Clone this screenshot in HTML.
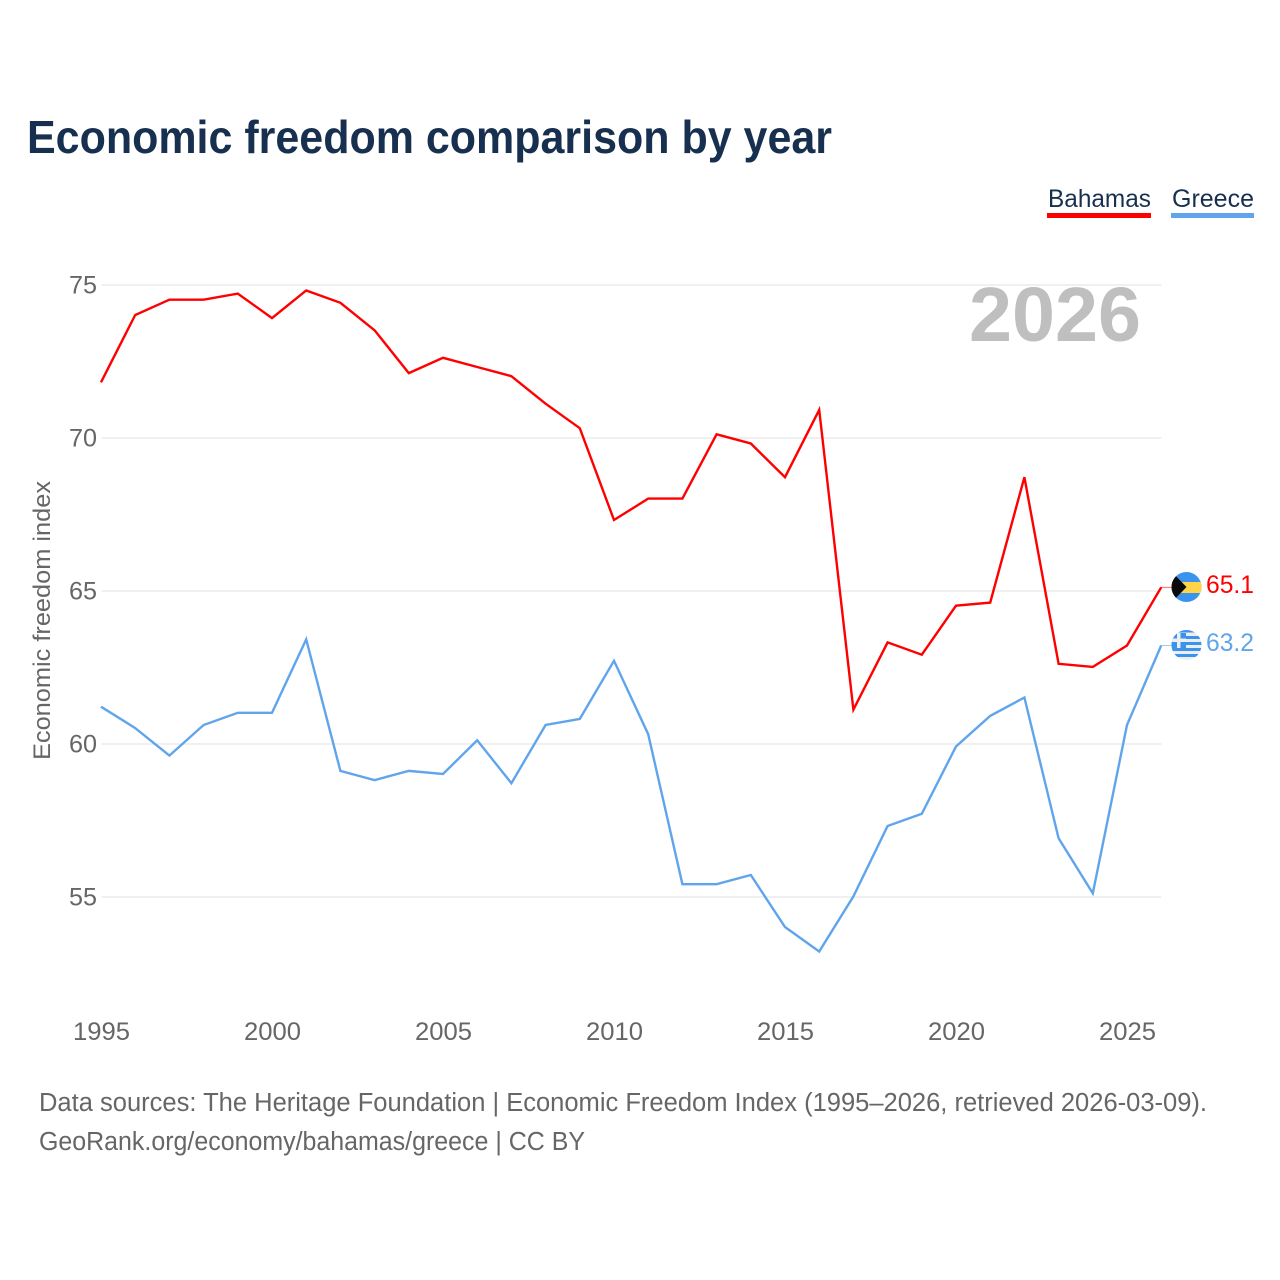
<!DOCTYPE html>
<html lang="en">
<head>
<meta charset="utf-8">
<title>Economic freedom comparison by year</title>
<style>
html,body{margin:0;padding:0;background:#fff;}
svg{display:block;font-family:"Liberation Sans",sans-serif;}
</style>
</head>
<body>
<svg id="chart" width="1280" height="1280" viewBox="0 0 1280 1280" xmlns="http://www.w3.org/2000/svg">
  <defs>
    <clipPath id="clip-bs"><circle cx="1186.500" cy="587" r="15"/></clipPath>
    <clipPath id="clip-gr"><circle cx="1186.500" cy="645" r="15"/></clipPath>
  </defs>
  <rect width="1280" height="1280" fill="#fff"/>
  <text x="27" y="153" font-size="46" font-weight="700" fill="#18304f" textLength="805" lengthAdjust="spacingAndGlyphs">Economic freedom comparison by year</text>

  <g id="grid"></g>
  <g id="yticks"></g>
  <g id="xticks"></g>
  <text transform="translate(50,760) rotate(-90)" font-size="24" fill="#666" textLength="279" lengthAdjust="spacingAndGlyphs">Economic freedom index</text>
  <text x="1141" y="341" text-anchor="end" font-size="77" font-weight="700" fill="#bfbfbf" textLength="172" lengthAdjust="spacingAndGlyphs">2026</text>

  <g id="series" transform="translate(-0.5,-0.6)"></g>

  <g>
    <text x="1048" y="207" font-size="25" fill="#18304f" textLength="103" lengthAdjust="spacingAndGlyphs">Bahamas</text>
    <rect x="1047" y="213" width="104" height="5" fill="#ff0000"/>
  </g>
  <g>
    <text x="1172" y="207" font-size="25" fill="#18304f" textLength="82" lengthAdjust="spacingAndGlyphs">Greece</text>
    <rect x="1171" y="213" width="83" height="5" fill="#60a5ec"/>
  </g>

  <g clip-path="url(#clip-bs)">
    <rect x="1171" y="572" width="31" height="30" fill="#3a94ee"/>
    <rect x="1171" y="582" width="31" height="11" fill="#ffd446"/>
    <polygon points="1171,571 1186.500,587 1171,603" fill="#0a0a0a"/>
  </g>
  <g clip-path="url(#clip-gr)">
    <rect x="1171" y="630" width="31" height="30" fill="#eeeeee"/>
    <rect x="1171" y="630" width="31" height="2.500" fill="#3a94ee"/>
    <rect x="1171" y="636" width="31" height="3" fill="#3a94ee"/>
    <rect x="1171" y="642" width="31" height="3" fill="#3a94ee"/>
    <rect x="1171" y="648" width="31" height="3" fill="#3a94ee"/>
    <rect x="1171" y="654" width="31" height="3" fill="#3a94ee"/>
    <rect x="1171" y="633" width="15" height="15" fill="#3a94ee"/>
    <rect x="1177" y="633" width="3.500" height="15" fill="#eeeeee"/>
    <rect x="1171" y="638.500" width="15" height="3.500" fill="#eeeeee"/>
  </g>
  <text x="1254" y="593" text-anchor="end" font-size="25" fill="#ff0000" textLength="48" lengthAdjust="spacingAndGlyphs">65.1</text>
  <text x="1254" y="651" text-anchor="end" font-size="25" fill="#60a5ec" textLength="48" lengthAdjust="spacingAndGlyphs">63.2</text>

  <text x="39" y="1111" font-size="25.500" fill="#666" textLength="1168" lengthAdjust="spacingAndGlyphs">Data sources: The Heritage Foundation | Economic Freedom Index (1995–2026, retrieved 2026-03-09).</text>
  <text x="39" y="1150" font-size="25.500" fill="#666" textLength="546" lengthAdjust="spacingAndGlyphs">GeoRank.org/economy/bahamas/greece | CC BY</text>
</svg>
<script>
const years = [1995,1996,1997,1998,1999,2000,2001,2002,2003,2004,2005,2006,2007,2008,2009,2010,2011,2012,2013,2014,2015,2016,2017,2018,2019,2020,2021,2022,2023,2024,2025,2026];
const bahamasValues = [71.8,74.0,74.5,74.5,74.7,73.9,74.8,74.4,73.5,72.1,72.6,72.3,72.0,71.1,70.3,67.3,68.0,68.0,70.1,69.8,68.7,70.9,61.1,63.3,62.9,64.5,64.6,68.7,62.6,62.5,63.2,65.1];
const greeceValues = [61.2,60.5,59.6,60.6,61.0,61.0,63.4,59.1,58.8,59.1,59.0,60.1,58.7,60.6,60.8,62.7,60.3,55.4,55.4,55.7,54.0,53.2,55.0,57.3,57.7,59.9,60.9,61.5,56.9,55.1,60.6,63.2];
const yTickLabels = [55,60,65,70,75];
const xTickLabels = [1995,2000,2005,2010,2015,2020,2025];

const NS = 'http://www.w3.org/2000/svg';
function xScale(year){ return 101.5 + (year - 1995) * 34.2; }
function yScale(v){ return 744 - (v - 60) * 30.6; }
function make(tag, attrs){
  const el = document.createElementNS(NS, tag);
  for (const k in attrs) el.setAttribute(k, attrs[k]);
  return el;
}
const grid = document.getElementById('grid');
const yticks = document.getElementById('yticks');
const xticks = document.getElementById('xticks');
const seriesGroup = document.getElementById('series');

yTickLabels.forEach(function(v){
  const line = make('line', {x1:101.5, x2:1161.5, y1:yScale(v), y2:yScale(v), stroke:'#f0f0f0', 'stroke-width':2});
  
  
  grid.appendChild(line);
  const t = make('text', {x:97, y:yScale(v) + 8.5, 'text-anchor':'end', 'font-size':25, fill:'#666', textLength:28, lengthAdjust:'spacingAndGlyphs'});
  
  
  t.textContent = v;
  yticks.appendChild(t);
});

xTickLabels.forEach(function(y){
  const t = make('text', {x:xScale(y), y:1040, 'text-anchor':'middle', 'font-size':25, fill:'#666', textLength:57, lengthAdjust:'spacingAndGlyphs'});
  
  
  t.textContent = y;
  xticks.appendChild(t);
});

function pointsFor(values){
  return values.map(function(v, i){ return xScale(years[i]).toFixed(1) + ',' + yScale(v).toFixed(1); }).join(' ');
}

const bahamasLine = make('polyline', {points:pointsFor(bahamasValues), fill:'none', stroke:'#ff0000', 'stroke-width':2.4, 'stroke-linejoin':'miter'});


seriesGroup.appendChild(bahamasLine);

const greeceLine = make('polyline', {points:pointsFor(greeceValues), fill:'none', stroke:'#60a5ec', 'stroke-width':2.4, 'stroke-linejoin':'miter'});


seriesGroup.appendChild(greeceLine);

const lastIndex = years.length - 1;
const bahamasConnector = make('line', {x1:xScale(years[lastIndex]), x2:1172, y1:yScale(bahamasValues[lastIndex]), y2:yScale(bahamasValues[lastIndex]), stroke:'#ff0000', 'stroke-width':1, opacity:0.6});


seriesGroup.appendChild(bahamasConnector);

const greeceConnector = make('line', {x1:xScale(years[lastIndex]), x2:1172, y1:yScale(greeceValues[lastIndex]), y2:yScale(greeceValues[lastIndex]), stroke:'#60a5ec', 'stroke-width':1, opacity:0.6});


seriesGroup.appendChild(greeceConnector);
</script>
</body>
</html>
